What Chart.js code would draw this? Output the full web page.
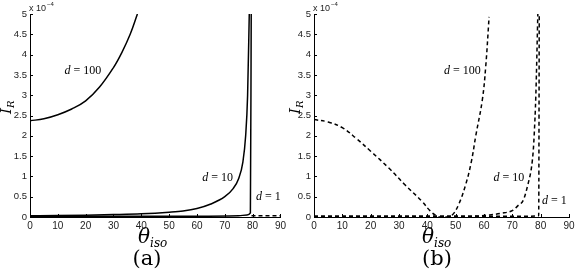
<!DOCTYPE html>
<html lang="en">
<head>
<meta charset="UTF-8">
<title>Reflected intensity vs isolation angle</title>
<script src="https://cdn.jsdelivr.net/npm/chart.js@4.4.7/dist/chart.umd.min.js"></script>
<style>
html, body { margin: 0; padding: 0; background: #fff; }
#wrap { position: relative; width: 579px; height: 270px; }
.panel { position: absolute; top: 0; height: 270px; }
#panelA { left: 0; width: 289px; }
#panelB { left: 289px; width: 290px; }
</style>
</head>
<body>
<div id="wrap">
  <div class="panel" id="panelA"><canvas id="chartA"></canvas></div>
  <div class="panel" id="panelB"><canvas id="chartB"></canvas></div>
</div>
<script>
// axis ticks
const xTicks = [0, 10, 20, 30, 40, 50, 60, 70, 80, 90];
const yTicks = [0, 0.5, 1, 1.5, 2, 2.5, 3, 3.5, 4, 4.5, 5];

// panel (a), solid curves, I_R in units of 1e-4
const d100a = [[0, 2.37], [5, 2.42], [10, 2.52], [15, 2.66], [20, 2.86], [25, 3.2], [30, 3.68], [33, 4.05], [36, 4.5], [38.6, 5.0]];
const d10a = [[0, 0.03], [10, 0.035], [20, 0.045], [30, 0.06], [40, 0.08], [50, 0.12], [55, 0.15], [60, 0.21], [65, 0.32], [70, 0.5],
  [73, 0.7], [75, 0.95], [76.5, 1.35], [77.5, 2.0], [78.2, 3.0], [78.8, 5.0]];
const d1a = [[0, 0.02], [20, 0.02], [40, 0.02], [60, 0.02], [75, 0.03], [78, 0.05], [79.2, 0.1], [79.5, 5.0]];
const d1aTail = [[79.6, 0.03], [85, 0.03], [90, 0.03]];

// panel (b), dashed curves
const d100b = [[0, 2.4], [5, 2.34], [10, 2.2], [15, 1.93], [20, 1.62], [26.5, 1.2], [32, 0.8], [38.2, 0.38], [41, 0.15], [43.5, 0.02],
  [45, 0.0], [47, 0.0], [48.8, 0.05], [51, 0.3], [53.5, 0.79], [55.5, 1.35], [57.1, 2.0], [59.4, 2.88], [60.6, 3.7], [61.8, 4.93]];
const d10b = [[0, 0.02], [20, 0.02], [40, 0.02], [55, 0.02], [62, 0.05], [66, 0.09], [70.3, 0.17], [72, 0.28], [73.9, 0.42],
  [75.6, 0.83], [76.8, 1.24], [77.4, 1.65], [77.7, 2.0], [78.3, 3.0], [79.0, 5.0]];
const d1b = [[0, 0.02], [20, 0.02], [40, 0.02], [60, 0.02], [75, 0.02], [79.3, 0.03], [79.5, 5.0]];

// curve labels (data coords)
const labelsA = [['100', 19, 3.6, 'center'], ['10', 67.4, 0.96, 'center'], ['1', 81.2, 0.5, 'left']];
const labelsB = [['100', 52.4, 3.6, 'center'], ['10', 68.8, 0.97, 'center'], ['1', 80.5, 0.4, 'left']];

const toPts = arr => arr.map(p => ({ x: p[0], y: p[1] }));

function line(data, dashed, smooth) {
  const ds = {
    data: toPts(data),
    borderColor: '#000',
    borderWidth: 1.5,
    borderDash: dashed ? [4, 3] : [],
    pointRadius: 0,
    fill: false
  };
  if (smooth) ds.tension = 0.4;
  else ds.cubicInterpolationMode = 'monotone';
  return ds;
}

const axesPlugin = {
  id: 'matlabAxes',
  afterDraw(chart) {
    const o = chart.options.plugins.matlabAxes;
    const ctx = chart.ctx;
    const xs = chart.scales.x, ys = chart.scales.y;
    const a = chart.chartArea;
    ctx.save();
    ctx.strokeStyle = '#000';
    ctx.lineWidth = 1;
    ctx.beginPath();
    xTicks.forEach(v => {
      const px = Math.round(xs.getPixelForValue(v)) + 0.5;
      ctx.moveTo(px, a.bottom); ctx.lineTo(px, a.bottom - 3);
    });
    yTicks.forEach(v => {
      const py = Math.round(ys.getPixelForValue(v)) + 0.5;
      ctx.moveTo(a.left, py); ctx.lineTo(a.left + 3, py);
    });
    ctx.stroke();

    // exponent label
    ctx.fillStyle = '#222';
    ctx.font = '9px "Liberation Sans", Arial, sans-serif';
    ctx.textBaseline = 'alphabetic';
    ctx.textAlign = 'left';
    ctx.fillText('x 10', a.left - 1, 11);
    const w = ctx.measureText('x 10').width;
    ctx.font = '6px "Liberation Sans", Arial, sans-serif';
    ctx.fillText('\u22124', a.left + w, 6);

    // y title I_R
    ctx.fillStyle = '#000';
    ctx.save();
    ctx.translate(7.5, 106);
    ctx.rotate(-Math.PI / 2);
    ctx.font = 'italic 15px "DejaVu Serif", serif';
    ctx.textAlign = 'left';
    ctx.textBaseline = 'middle';
    const iw = ctx.measureText('I').width;
    ctx.fillText('I', -8, 0);
    ctx.font = 'italic 10px "DejaVu Serif", serif';
    ctx.fillText('R', -8 + iw, 4);
    ctx.restore();

    // x title theta_iso
    const cx = o.titleX;
    ctx.font = 'italic 20px "DejaVu Serif", serif';
    ctx.textAlign = 'left';
    ctx.textBaseline = 'alphabetic';
    ctx.fillText('\u03b8', cx - 14, 243);
    const tw = ctx.measureText('\u03b8').width;
    ctx.font = 'italic 12px "DejaVu Serif", serif';
    ctx.fillText('iso', cx - 14 + tw, 247);

    // caption
    ctx.font = '21px "DejaVu Serif", serif';
    ctx.textAlign = 'center';
    ctx.fillText(o.caption, o.captionX, 265);

    // curve labels
    o.labels.forEach(l => {
      const px = xs.getPixelForValue(l[1]);
      const py = ys.getPixelForValue(l[2]);
      ctx.font = 'italic 12px "Liberation Serif", serif';
      const dw = ctx.measureText('d').width;
      ctx.font = '12px "Liberation Serif", serif';
      const rest = ' = ' + l[0];
      const rw = ctx.measureText(rest).width;
      const total = dw + rw;
      const x0 = l[3] === 'center' ? px - total / 2 : px;
      ctx.textAlign = 'left';
      ctx.textBaseline = 'middle';
      ctx.font = 'italic 12px "Liberation Serif", serif';
      ctx.fillText('d', x0, py);
      ctx.font = '12px "Liberation Serif", serif';
      ctx.fillText(rest, x0 + dw, py);
    });
    ctx.restore();
  }
};

function makeChart(id, datasets, padRight, axisWidth, caption, titleX, captionX, labels) {
  return new Chart(document.getElementById(id), {
    type: 'line',
    data: { datasets: datasets },
    plugins: [axesPlugin],
    options: {
      responsive: true,
      maintainAspectRatio: false,
      animation: false,
      layout: { padding: { left: 0, right: padRight, top: 14, bottom: 0 } },
      plugins: {
        legend: { display: false },
        tooltip: { enabled: false },
        matlabAxes: { caption: caption, titleX: titleX, captionX: captionX, labels: labels }
      },
      scales: {
        x: {
          type: 'linear', min: 0, max: 90,
          afterBuildTicks: s => { s.ticks = xTicks.map(v => ({ value: v })); },
          afterFit: s => { s.height = 53; },
          grid: { display: false, drawTicks: false },
          border: { display: true, color: '#000', width: 1 },
          ticks: { color: '#222', padding: 3, maxRotation: 0, autoSkip: false,
            callback: v => String(v),
            font: { family: '"Liberation Sans", Arial, sans-serif', size: 10 } }
        },
        y: {
          type: 'linear', min: 0, max: 5,
          afterBuildTicks: s => { s.ticks = yTicks.map(v => ({ value: v })); },
          afterFit: s => { s.width = axisWidth; },
          grid: { display: false, drawTicks: false },
          border: { display: true, color: '#000', width: 1 },
          ticks: { color: '#222', padding: 3, autoSkip: false,
            callback: v => String(v),
            font: { family: '"Liberation Sans", Arial, sans-serif', size: 9.5 } }
        }
      }
    }
  });
}

makeChart('chartA',
  [line(d100a, false, true), line(d10a, false), line(d1a, false), line(d1aTail, true)],
  4, 30, '(a)', 152, 147, labelsA);

makeChart('chartB',
  [line(d100b, true, true), line(d10b, true), line(d1b, true)],
  10, 25, '(b)', 147, 148, labelsB);
</script>
</body>
</html>
